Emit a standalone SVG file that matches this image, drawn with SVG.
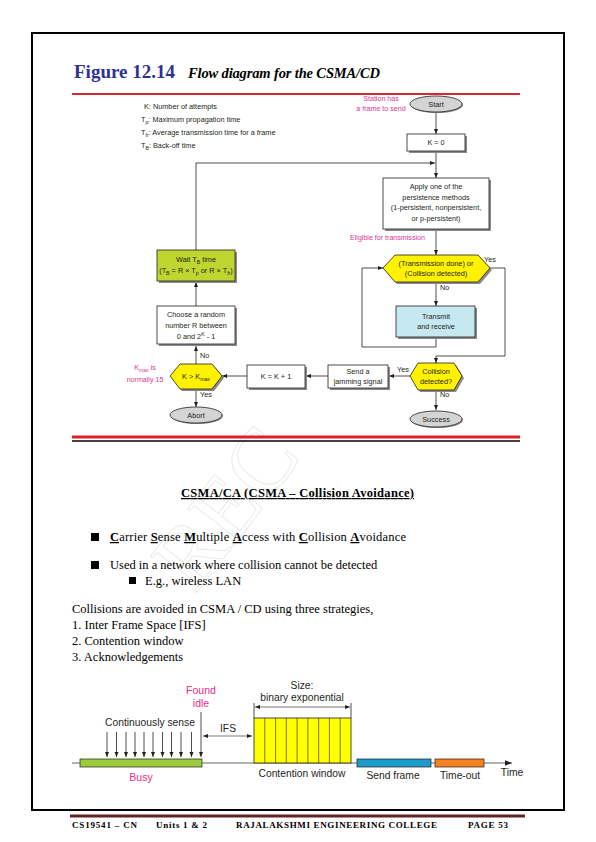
<svg xmlns="http://www.w3.org/2000/svg" width="596" height="842" viewBox="0 0 596 842">
<style>
.fc{font-family:"Liberation Sans",Arial,sans-serif;font-size:7.3px;fill:#231f20}
.mg{font-family:"Liberation Sans",Arial,sans-serif;font-size:7.1px;fill:#d6379a}
.box{fill:#fff;stroke:#231f20;stroke-width:0.8}
.sh{fill:#8a8a8a}
.hex{fill:#fff200;stroke:#231f20;stroke-width:0.8}
.ell{fill:#d4d4d4;stroke:#231f20;stroke-width:0.8}
.ln{fill:none;stroke:#231f20;stroke-width:0.8}
.tm{font-family:"Liberation Serif","Times New Roman",serif;font-size:12.5px;fill:#000}
.bd{font-family:"Liberation Sans",Arial,sans-serif;font-size:10.3px;fill:#231f20}
.bm{font-family:"Liberation Sans",Arial,sans-serif;font-size:10.5px;fill:#ec2b8c}
.ft{font-family:"Liberation Serif","Times New Roman",serif;font-size:9px;font-weight:bold;fill:#000}
</style>
<defs>
<marker id="ah" viewBox="0 0 10 10" refX="10" refY="5" markerWidth="5" markerHeight="5" orient="auto-start-reverse" markerUnits="userSpaceOnUse">
<path d="M0,1 L10,5 L0,9 z" fill="#231f20"/>
</marker>
<marker id="ah2" viewBox="0 0 10 10" refX="10" refY="5" markerWidth="7" markerHeight="7" orient="auto-start-reverse" markerUnits="userSpaceOnUse">
<path d="M0,1 L10,5 L0,9 z" fill="#231f20"/>
</marker>
</defs>
<rect width="596" height="842" fill="#fff"/>
<!-- watermark -->
<text x="195" y="595" transform="rotate(-52 195 595)" font-family="Liberation Serif,serif" font-size="90" fill="none" stroke="#d8d8d8" stroke-width="1" opacity="0.5">REC</text>
<!-- page border -->
<rect x="32" y="33" width="532" height="777" fill="none" stroke="#000" stroke-width="2"/>
<!-- title -->
<text x="74" y="78" font-family="Liberation Serif,serif" font-weight="bold" font-size="19" fill="#2e3192">Figure 12.14</text>
<text x="188" y="78" font-family="Liberation Serif,serif" font-weight="bold" font-style="italic" font-size="14.5" fill="#000" textLength="192">Flow diagram for the CSMA/CD</text>
<line x1="72" y1="94" x2="520" y2="94" stroke="#d7282f" stroke-width="2"/>
<!-- legend -->
<g id="legend">
<text class="fc" x="144" y="109">K: Number of attempts</text>
<text class="fc" x="141" y="122">T<tspan dy="2" font-size="5.2">p</tspan><tspan dy="-2">: Maximum propagation time</tspan></text>
<text class="fc" x="141" y="135">T<tspan dy="2" font-size="5.2">fr</tspan><tspan dy="-2">: Average transmission time for a frame</tspan></text>
<text class="fc" x="141" y="148">T<tspan dy="2" font-size="5.2">B</tspan><tspan dy="-2">: Back-off time</tspan></text>
</g>
<!-- connectors -->
<g id="connectors">
<line class="ln" x1="436" y1="112" x2="436" y2="134" marker-end="url(#ah)"/>
<line class="ln" x1="436" y1="152" x2="436" y2="178" marker-end="url(#ah)"/>
<polyline class="ln" points="196,250 196,163 435,163" marker-end="url(#ah)"/>
<line class="ln" x1="436" y1="231" x2="436" y2="255" marker-end="url(#ah)"/>
<line class="ln" x1="436" y1="282" x2="436" y2="306" marker-end="url(#ah)"/>
<polyline class="ln" points="436,338 436,347 362,347 362,268 383,268" marker-end="url(#ah)"/>
<polyline class="ln" points="490,268 505,268 505,356 436,356 436,363" marker-end="url(#ah)"/>
<line class="ln" x1="410" y1="376" x2="389" y2="376" marker-end="url(#ah)"/>
<line class="ln" x1="328" y1="376" x2="306" y2="376" marker-end="url(#ah)"/>
<line class="ln" x1="247" y1="376" x2="222" y2="376" marker-end="url(#ah)"/>
<line class="ln" x1="196" y1="364" x2="196" y2="346" marker-end="url(#ah)"/>
<line class="ln" x1="196" y1="389" x2="196" y2="407" marker-end="url(#ah)"/>
<line class="ln" x1="196" y1="306" x2="196" y2="282" marker-end="url(#ah)"/>
<line class="ln" x1="436" y1="390" x2="436" y2="410" marker-end="url(#ah)"/>
<text class="fc" x="484" y="262">Yes</text>
<text class="fc" x="440" y="290">No</text>
<text class="fc" x="397" y="372">Yes</text>
<text class="fc" x="440" y="397">No</text>
<text class="fc" x="200" y="358">No</text>
<text class="fc" x="200" y="397">Yes</text>
<text class="mg" x="350" y="240">Eligible for transmission</text>
</g>
<!-- nodes -->
<g id="start">
<ellipse cx="437" cy="105" rx="26" ry="8" class="sh"/>
<ellipse cx="436" cy="104" rx="26" ry="8" class="ell"/>
<text class="fc" x="436" y="106.5" text-anchor="middle">Start</text>
<text class="mg" x="381" y="101" text-anchor="middle">Station has</text>
<text class="mg" x="381" y="111" text-anchor="middle">a frame to send</text>
</g>
<g id="k0">
<rect x="409" y="136" width="58" height="17" class="sh"/>
<rect x="407" y="134" width="58" height="17" class="box"/>
<text class="fc" x="436" y="145" text-anchor="middle">K = 0</text>
</g>
<g id="apply">
<rect x="385" y="180" width="106" height="51" class="sh"/>
<rect x="383" y="178" width="106" height="51" class="box"/>
<text class="fc" x="436" y="189" text-anchor="middle">Apply one of the</text>
<text class="fc" x="436" y="199.5" text-anchor="middle">persistence methods</text>
<text class="fc" x="436" y="210" text-anchor="middle">(1-persistent, nonpersistent,</text>
<text class="fc" x="436" y="220.5" text-anchor="middle">or p-persistent)</text>
</g>
<g id="txdone">
<polygon points="385,270 397,257 480,257 492,270 480,284 397,284" class="sh"/>
<polygon points="383,268 395,255 478,255 490,268 478,282 395,282" class="hex"/>
<text class="fc" x="436" y="266" text-anchor="middle">(Transmission done) or</text>
<text class="fc" x="436" y="276" text-anchor="middle">(Collision detected)</text>
</g>
<g id="transmit">
<rect x="398" y="308" width="79" height="31" class="sh"/>
<rect x="396" y="306" width="79" height="31" fill="#c5e8f1" stroke="#231f20" stroke-width="0.8"/>
<text class="fc" x="436" y="319" text-anchor="middle">Transmit</text>
<text class="fc" x="436" y="329" text-anchor="middle">and receive</text>
</g>
<g id="collision">
<polygon points="412,378 420,365 456,365 464,378 456,392 420,392" class="sh"/>
<polygon points="410,376 418,363 454,363 462,376 454,390 418,390" class="hex"/>
<text class="fc" x="436" y="374" text-anchor="middle">Collision</text>
<text class="fc" x="436" y="384" text-anchor="middle">detected?</text>
</g>
<g id="success">
<ellipse cx="437" cy="420" rx="26" ry="8" class="sh"/>
<ellipse cx="436" cy="419" rx="26" ry="8" class="ell"/>
<text class="fc" x="436" y="421.5" text-anchor="middle">Success</text>
</g>
<g id="jam">
<rect x="330" y="367" width="60" height="23" class="sh"/>
<rect x="328" y="365" width="60" height="23" class="box"/>
<text class="fc" x="358" y="374" text-anchor="middle">Send a</text>
<text class="fc" x="358" y="384" text-anchor="middle">jamming signal</text>
</g>
<g id="kinc">
<rect x="249" y="367" width="58" height="23" class="sh"/>
<rect x="247" y="365" width="58" height="23" class="box"/>
<text class="fc" x="276" y="379" text-anchor="middle">K = K + 1</text>
</g>
<g id="kmax">
<polygon points="172,378 182,366 214,366 224,378 214,391 182,391" class="sh"/>
<polygon points="170,376 180,364 212,364 222,376 212,389 180,389" class="hex"/>
<text class="fc" x="196" y="379" text-anchor="middle">K &gt; K<tspan dy="2" font-size="5.2">max</tspan></text>
<text class="mg" x="145" y="370" text-anchor="middle">K<tspan dy="2" font-size="5.2">max</tspan><tspan dy="-2"> is</tspan></text>
<text class="mg" x="145" y="382" text-anchor="middle">normally 15</text>
</g>
<g id="abort">
<ellipse cx="197" cy="416" rx="26" ry="8" class="sh"/>
<ellipse cx="196" cy="415" rx="26" ry="8" class="ell"/>
<text class="fc" x="196" y="417.5" text-anchor="middle">Abort</text>
</g>
<g id="choose">
<rect x="159" y="308" width="78" height="38" class="sh"/>
<rect x="157" y="306" width="78" height="38" class="box"/>
<text class="fc" x="196" y="316.5" text-anchor="middle">Choose a random</text>
<text class="fc" x="196" y="327.5" text-anchor="middle">number R between</text>
<text class="fc" x="196" y="338.5" text-anchor="middle">0 and 2<tspan dy="-3" font-size="5.2">K</tspan><tspan dy="3"> - 1</tspan></text>
</g>
<g id="wait">
<rect x="159" y="252" width="78" height="31" class="sh"/>
<rect x="157" y="250" width="78" height="31" fill="#bed62f" stroke="#231f20" stroke-width="0.8"/>
<text class="fc" x="196" y="262" text-anchor="middle">Wait T<tspan dy="2" font-size="5.2">B</tspan><tspan dy="-2"> time</tspan></text>
<text class="fc" x="196" y="273" text-anchor="middle">(T<tspan dy="2" font-size="5.2">B</tspan><tspan dy="-2"> = R × T</tspan><tspan dy="2" font-size="5.2">p</tspan><tspan dy="-2"> or R × T</tspan><tspan dy="2" font-size="5.2">fr</tspan><tspan dy="-2">)</tspan></text>
</g>
<line x1="72" y1="437" x2="520" y2="437" stroke="#e41e26" stroke-width="3"/>
<line x1="72" y1="441" x2="520" y2="441" stroke="#000" stroke-width="1.5"/>
<!-- text section -->
<text class="tm" x="181" y="497" font-weight="bold" font-size="13" text-decoration="underline" textLength="233">CSMA/CA (CSMA – Collision Avoidance)</text>
<rect x="91" y="533" width="8" height="8" fill="#000"/>
<text class="tm" x="110" y="541" font-size="13" textLength="296"><tspan font-weight="bold" text-decoration="underline">C</tspan>arrier <tspan font-weight="bold" text-decoration="underline">S</tspan>ense <tspan font-weight="bold" text-decoration="underline">M</tspan>ultiple <tspan font-weight="bold" text-decoration="underline">A</tspan>ccess with <tspan font-weight="bold" text-decoration="underline">C</tspan>ollision <tspan font-weight="bold" text-decoration="underline">A</tspan>voidance</text>
<rect x="91" y="561" width="8" height="8" fill="#000"/>
<text class="tm" x="110" y="569" font-size="12.8">Used in a network where collision cannot be detected</text>
<rect x="129" y="577" width="7" height="7" fill="#000"/>
<text class="tm" x="145" y="585">E.g., wireless LAN</text>
<text class="tm" x="72" y="613">Collisions are avoided in CSMA / CD using three strategies,</text>
<text class="tm" x="72" y="629">1. Inter Frame Space [IFS]</text>
<text class="tm" x="72" y="645">2. Contention window</text>
<text class="tm" x="72" y="661">3. Acknowledgements</text>
<!-- bottom diagram -->
<g id="timeline">
<line x1="72" y1="763" x2="512" y2="763" stroke="#555" stroke-width="0.9" marker-end="url(#ah2)"/>
<rect x="80" y="759" width="122" height="8" fill="#9ccb3b" stroke="#231f20" stroke-width="0.7"/>
<text class="bm" x="141" y="781" text-anchor="middle">Busy</text>
<g stroke="#231f20" stroke-width="0.8">
<line x1="107" y1="732" x2="107" y2="757" marker-end="url(#ah)"/>
<line x1="116.5" y1="732" x2="116.5" y2="757" marker-end="url(#ah)"/>
<line x1="126" y1="732" x2="126" y2="757" marker-end="url(#ah)"/>
<line x1="135" y1="732" x2="135" y2="757" marker-end="url(#ah)"/>
<line x1="144" y1="732" x2="144" y2="757" marker-end="url(#ah)"/>
<line x1="153" y1="732" x2="153" y2="757" marker-end="url(#ah)"/>
<line x1="162.5" y1="732" x2="162.5" y2="757" marker-end="url(#ah)"/>
<line x1="171.5" y1="732" x2="171.5" y2="757" marker-end="url(#ah)"/>
<line x1="181" y1="732" x2="181" y2="757" marker-end="url(#ah)"/>
<line x1="191.5" y1="732" x2="191.5" y2="757" marker-end="url(#ah)"/>
<line x1="201" y1="712" x2="201" y2="757" marker-end="url(#ah)"/>
</g>
<text class="bd" x="150" y="726" text-anchor="middle">Continuously sense</text>
<text class="bm" x="201" y="694" text-anchor="middle">Found</text>
<text class="bm" x="201" y="707" text-anchor="middle">idle</text>
<line x1="203" y1="736" x2="252" y2="736" stroke="#555" stroke-width="0.8" marker-start="url(#ah)" marker-end="url(#ah)"/>
<text class="bd" x="228" y="732" text-anchor="middle">IFS</text>
<rect x="254" y="718" width="97" height="45" fill="#ffff00" stroke="#231f20" stroke-width="0.8"/>
<g stroke="#231f20" stroke-width="0.6">
<line x1="264.8" y1="718" x2="264.8" y2="763"/>
<line x1="275.6" y1="718" x2="275.6" y2="763"/>
<line x1="286.3" y1="718" x2="286.3" y2="763"/>
<line x1="297.1" y1="718" x2="297.1" y2="763"/>
<line x1="307.9" y1="718" x2="307.9" y2="763"/>
<line x1="318.7" y1="718" x2="318.7" y2="763"/>
<line x1="329.4" y1="718" x2="329.4" y2="763"/>
<line x1="340.2" y1="718" x2="340.2" y2="763"/>
</g>
<line x1="254" y1="703" x2="254" y2="718" stroke="#231f20" stroke-width="0.8"/>
<line x1="351" y1="703" x2="351" y2="718" stroke="#231f20" stroke-width="0.8"/>
<line x1="255" y1="707" x2="350" y2="707" stroke="#555" stroke-width="0.8" marker-start="url(#ah)" marker-end="url(#ah)"/>
<text class="bd" x="302" y="689" text-anchor="middle">Size:</text>
<text class="bd" x="302" y="701" text-anchor="middle">binary exponential</text>
<text class="bd" x="302" y="777" text-anchor="middle">Contention window</text>
<rect x="357" y="759" width="74" height="8" fill="#1b9bc9" stroke="#231f20" stroke-width="0.7"/>
<text class="bd" x="393" y="779" text-anchor="middle">Send frame</text>
<rect x="435" y="759" width="49" height="8" fill="#f58220" stroke="#231f20" stroke-width="0.7"/>
<text class="bd" x="460" y="779" text-anchor="middle">Time-out</text>
<text class="bd" x="512" y="776" text-anchor="middle">Time</text>
</g>
<!-- footer -->
<line x1="70" y1="816" x2="525" y2="816" stroke="#622423" stroke-width="3"/>
<text class="ft" x="72" y="828" textLength="65">CS19541  – CN</text>
<text class="ft" x="156" y="828" textLength="51">Units 1 &amp; 2</text>
<text class="ft" x="236" y="828" textLength="201">RAJALAKSHMI ENGINEERING COLLEGE</text>
<text class="ft" x="468" y="828" textLength="40">PAGE 53</text>
</svg>
